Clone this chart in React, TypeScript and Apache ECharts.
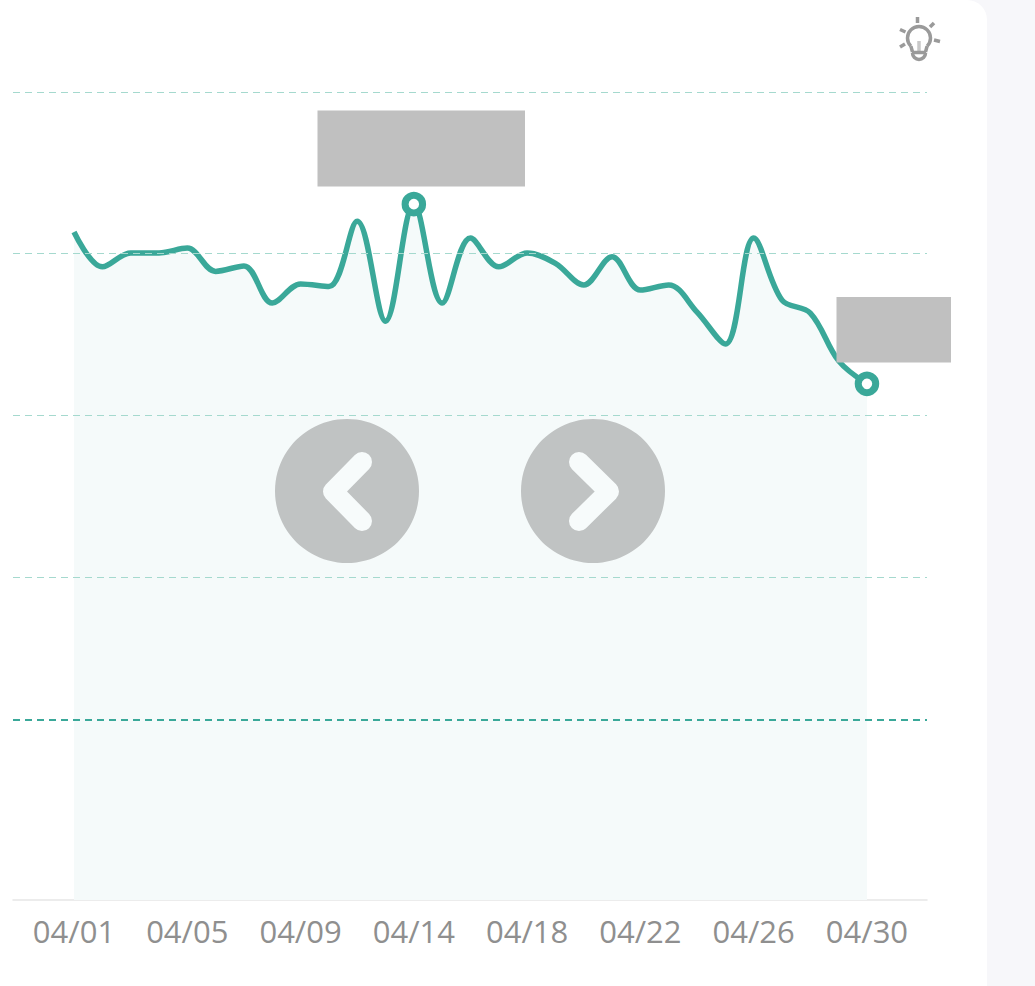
import React, { useEffect, useRef } from "react";
import * as echarts from "echarts";

const dates = ["04/01","04/02","04/03","04/04","04/05","04/06","04/07","04/08","04/09","04/10","04/11","04/13","04/14","04/15","04/16","04/17","04/18","04/19","04/20","04/21","04/22","04/23","04/24","04/25","04/26","04/27","04/28","04/29","04/30"];
const values = [206.7,195.9,200.2,200.2,201.7,194.5,196.2,184.7,190.6,189.8,210,179.1,215.3,184.7,204.8,195.9,200.2,197,190.3,199,188.7,190.3,181.9,172,204.8,185.6,181.6,166.8,159.7];
const labelIndexes = [0,4,8,12,16,20,24,28];
const gridValues = [250,200,150,100];
const targetValue = 55.7;
const highlighted = [12,28];
const TEAL = "#3aa899";
const ICON = "#9a9a9a";

export default function App() {
  const ref = useRef<HTMLDivElement>(null);
  useEffect(() => {
    const chart = echarts.init(ref.current!, null, { renderer: "svg" });
    const ray = (x1: number, y1: number, x2: number, y2: number, stroke = ICON) => ({
      type: "line", shape: { x1, y1, x2, y2 }, style: { stroke, lineWidth: 3.5 },
    });
    const chevron = (points: number[][]) => ({
      type: "polyline",
      shape: { points },
      style: { stroke: "#f7fbfb", lineWidth: 20, lineCap: "round", lineJoin: "round", fill: "none" },
      z: 51,
    });
    chart.setOption({
      animation: false,
      grid: { left: 13, right: 60, top: 92, bottom: 86 },
      xAxis: {
        type: "value",
        min: -2.154,
        max: 30.12,
        splitLine: { show: false },
        axisTick: { show: false },
        axisLine: { show: true, onZero: false, lineStyle: { color: "#e6e6e6", width: 1.5 } },
        axisLabel: {
          customValues: labelIndexes,
          formatter: (v: number) => dates[v],
          color: "#8f8f8f",
          fontSize: 31,
          fontFamily: "Open Sans",
          margin: 15,
          hideOverlap: false,
        },
      },
      yAxis: {
        type: "value",
        min: 0,
        max: 250,
        interval: 50,
        axisLine: { show: false },
        axisTick: { show: false },
        axisLabel: { show: false },
        splitLine: { show: false },
      },
      series: [
        {
          type: "line",
          data: values.map((v, i) => [i, v]),
          smooth: 0.35,
          symbol: "none",
          lineStyle: { width: 5.5, color: TEAL },
          areaStyle: { color: "#f5fafa", opacity: 1 },
          markLine: {
            silent: true,
            symbol: "none",
            label: { show: false },
            data: [
              ...gridValues.map((v) => ({
                yAxis: v,
                lineStyle: { color: "#a5d9ce", width: 1, type: [7, 5] },
              })),
              { yAxis: targetValue, lineStyle: { color: TEAL, width: 2, type: [7, 5] } },
            ],
          },
          markPoint: {
            silent: true,
            symbol: "circle",
            symbolSize: 17.5,
            label: { show: false },
            itemStyle: { color: "#ffffff", borderColor: TEAL, borderWidth: 7 },
            data: highlighted.map((i) => ({ coord: [i, values[i]] })),
          },
        },
      ],
      graphic: [
        { type: "rect", shape: { x: 317.5, y: 110.5, width: 207.5, height: 76 }, style: { fill: "#c0c0c0" }, z: 50 },
        { type: "rect", shape: { x: 836.5, y: 297, width: 114.5, height: 65.5 }, style: { fill: "#c0c0c0" }, z: 50 },
        { type: "circle", shape: { cx: 347, cy: 491, r: 72 }, style: { fill: "#c0c3c3" }, z: 50 },
        { type: "circle", shape: { cx: 593, cy: 491, r: 72 }, style: { fill: "#c0c3c3" }, z: 50 },
        chevron([[362, 462], [333, 491.5], [362, 521]]),
        chevron([[579, 462], [609, 491.5], [579, 521]]),
        ray(917.5, 17, 917.5, 23),
        ray(930, 27, 934, 23),
        ray(934, 40, 940, 41.5),
        ray(900, 29.5, 905.5, 32),
        ray(900, 47, 905, 44),
        ray(919, 41, 919, 51, "#c8c8c8"),
        { type: "arc", shape: { cx: 919, cy: 38, r: 11.5, startAngle: Math.PI * 0.75, endAngle: Math.PI * 0.25, clockwise: true }, style: { stroke: ICON, lineWidth: 3.5, fill: "none" } },
        ray(910.9, 46.1, 912.5, 52),
        ray(927.1, 46.1, 925.5, 52),
        { type: "arc", shape: { cx: 919, cy: 53, r: 6.5, startAngle: 0, endAngle: Math.PI, clockwise: true }, style: { stroke: ICON, lineWidth: 3.5, fill: "none" } },
        ray(912, 52.5, 926, 52.5),
      ],
    });
    return () => chart.dispose();
  }, []);
  return (
    <div style={{ position: "absolute", left: 0, top: 0, width: 1035, height: 986, background: "#f7f7fa", overflow: "hidden" }}>
      <div style={{ position: "absolute", left: 0, top: 0, width: 987, height: 986, background: "#ffffff", borderTopRightRadius: 20 }} />
      <div ref={ref} style={{ position: "absolute", left: 0, top: 0, width: 987, height: 986 }} />
    </div>
  );
}
